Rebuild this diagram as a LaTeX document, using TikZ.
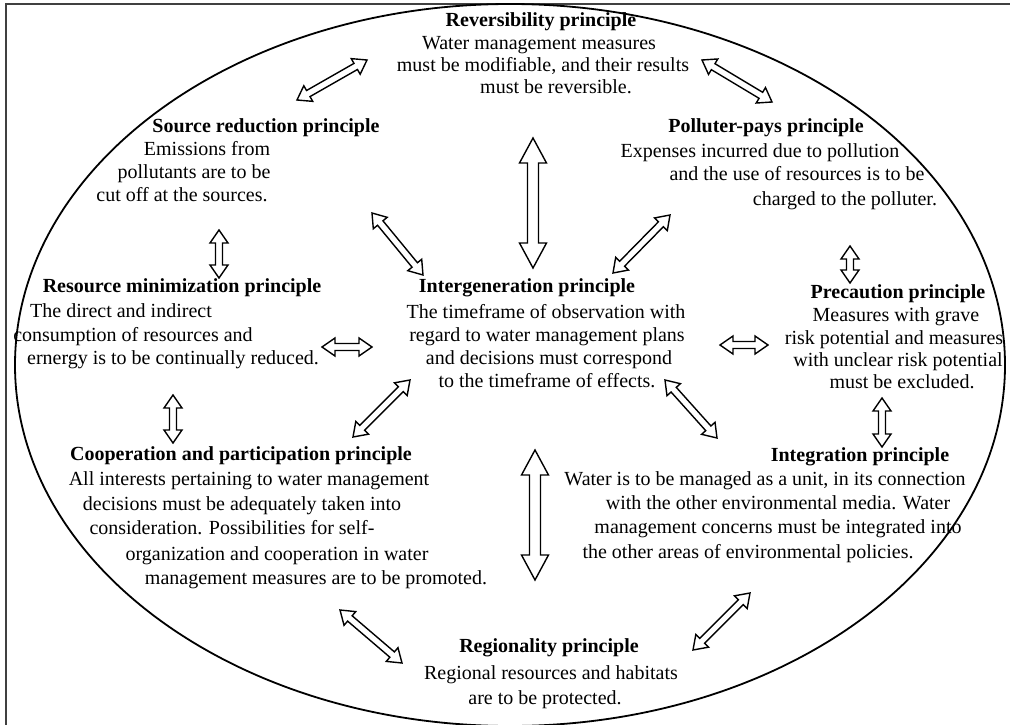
\documentclass[tikz,border=0pt]{standalone}
\usepackage{fontspec}
\setmainfont{Liberation Serif}
\usetikzlibrary{calc}
\tikzset{
  body/.style={font=\fontsize{20}{24}\selectfont, inner sep=0pt, anchor=mid},
  ttl/.style={font=\bfseries\fontsize{20}{24}\selectfont, inner sep=0pt, anchor=mid},
  arrowshape/.style={draw=black, fill=white, line width=1.4pt, line join=miter},
  frame/.style={draw=black!75, line width=1.6pt},
  oval/.style={draw=black, line width=1.8pt}
}
% #1 start, #2 end, #3 shaft half width, #4 head half width, #5 head length
\newcommand{\hollowarrow}[5]{%
  \coordinate (#1-#2-a) at ($(#1)!#5!(#2)$);
  \coordinate (#1-#2-b) at ($(#2)!#5!(#1)$);
  \draw[arrowshape] (#1) -- ($(#1-#2-a)!#4!90:(#2)$) -- ($(#1-#2-a)!#3!90:(#2)$)
    -- ($(#1-#2-b)!#3!-90:(#1)$) -- ($(#1-#2-b)!#4!-90:(#1)$) -- (#2)
    -- ($(#1-#2-b)!#4!90:(#1)$) -- ($(#1-#2-b)!#3!90:(#1)$)
    -- ($(#1-#2-a)!#3!-90:(#2)$) -- ($(#1-#2-a)!#4!-90:(#2)$) -- cycle;}
\newcommand{\smallarrow}[2]{\hollowarrow{#1}{#2}{3.5pt}{9pt}{13pt}}
\newcommand{\bigarrow}[2]{\hollowarrow{#1}{#2}{5.5pt}{13.5pt}{25pt}}
\begin{document}
\begin{tikzpicture}[x=1pt, y=-1pt]
\useasboundingbox (0,0) rectangle (1010,725);
\fill[white] (0,0) rectangle (1010,725);
% frame remnants (top and left)
\coordinate (fa) at (6,725);
\coordinate (fb) at (6,4);
\coordinate (fc) at (1010,4);
\draw[frame] (fa) -- (fb) -- (fc);
% large ellipse
\coordinate (oc) at (510,365);
\draw[oval] (oc) ellipse [x radius=495pt, y radius=361pt];

% Reversibility
\node[ttl]  (rev0) at (541,24) {Reversibility principle};
\node[body] (rev1) at (539,47) {Water management measures};
\node[body] (rev2) at (543,69) {must be modifiable, and their results};
\node[body] (rev3) at (556,91) {must be reversible.};

% Source reduction
\node[ttl]  (src0) at (266,130) {Source reduction principle};
\node[body] (src1) at (207,153) {Emissions from};
\node[body] (src2) at (194,176) {pollutants are to be};
\node[body] (src3) at (182,199) {cut off at the sources.};

% Polluter-pays
\node[ttl]  (pol0) at (766,130) {Polluter-pays principle};
\node[body] (pol1) at (760,155) {Expenses incurred due to pollution};
\node[body] (pol2) at (797,178) {and the use of resources is to be};
\node[body] (pol3) at (845,203) {charged to the polluter.};

% Resource minimization
\node[ttl]  (res0) at (182,290) {Resource minimization principle};
\node[body] (res1) at (121,315) {The direct and indirect};
\node[body] (res2) at (133,339) {consumption of resources and};
\node[body] (res3) at (173,362) {ernergy is to be continually reduced.};

% Intergeneration
\node[ttl]  (int0) at (527,290) {Intergeneration principle};
\node[body] (int1) at (546,316) {The timeframe of observation with};
\node[body] (int2) at (547,339) {regard to water management plans};
\node[body] (int3) at (549,362) {and decisions must correspond};
\node[body] (int4) at (547,385) {to the timeframe of effects.};

% Precaution
\node[ttl]  (pre0) at (898,296) {Precaution principle};
\node[body] (pre1) at (896,319) {Measures with grave};
\node[body] (pre2) at (894,342) {risk potential and measures};
\node[body] (pre3) at (898,364) {with unclear risk potential};
\node[body] (pre4) at (902,386) {must be excluded.};

% Cooperation and participation
\node[ttl]  (coo0) at (241,458) {Cooperation and participation principle};
\node[body] (coo1) at (249,483) {All interests pertaining to water management};
\node[body] (coo2) at (242,508) {decisions must be adequately taken into};
\node[body] (coo3) at (232,532) {consideration. Possibilities for self-};
\node[body] (coo4) at (277,558) {organization and cooperation in water};
\node[body] (coo5) at (316,582) {management measures are to be promoted.};

% Integration
\node[ttl]  (itg0) at (860,459) {Integration principle};
\node[body] (itg1) at (765,483) {Water is to be managed as a unit, in its connection};
\node[body] (itg2) at (778,507) {with the other environmental media. Water};
\node[body] (itg3) at (778,531) {management concerns must be integrated into};
\node[body] (itg4) at (748,556) {the other areas of environmental policies.};

% Regionality
\node[ttl]  (reg0) at (549,650) {Regionality principle};
\node[body] (reg1) at (551,677) {Regional resources and habitats};
\node[body] (reg2) at (545,702) {are to be protected.};

% arrow end points
\coordinate (a1s) at (297,100);  \coordinate (a1e) at (367,60);
\coordinate (a2s) at (702,60);   \coordinate (a2e) at (772,102);
\coordinate (a3s) at (533,138);  \coordinate (a3e) at (533,268);
\coordinate (a4s) at (372,213);  \coordinate (a4e) at (423,275);
\coordinate (a5s) at (670,215);  \coordinate (a5e) at (613,273);
\coordinate (a6s) at (219,230);  \coordinate (a6e) at (219,278);
\coordinate (a7s) at (850,246);  \coordinate (a7e) at (850,283);
\coordinate (a8s) at (322,347);  \coordinate (a8e) at (372,347);
\coordinate (a9s) at (720,345);  \coordinate (a9e) at (768,345);
\coordinate (a10s) at (173,395); \coordinate (a10e) at (173,443);
\coordinate (a11s) at (410,380); \coordinate (a11e) at (353,437);
\coordinate (a12s) at (665,380); \coordinate (a12e) at (717,438);
\coordinate (a13s) at (882,398); \coordinate (a13e) at (882,447);
\coordinate (a14s) at (535,450); \coordinate (a14e) at (535,580);
\coordinate (a15s) at (340,610); \coordinate (a15e) at (402,663);
\coordinate (a16s) at (750,593); \coordinate (a16e) at (693,650);

\smallarrow{a1s}{a1e}
\smallarrow{a2s}{a2e}
\bigarrow{a3s}{a3e}
\smallarrow{a4s}{a4e}
\smallarrow{a5s}{a5e}
\smallarrow{a6s}{a6e}
\smallarrow{a7s}{a7e}
\smallarrow{a8s}{a8e}
\smallarrow{a9s}{a9e}
\smallarrow{a10s}{a10e}
\smallarrow{a11s}{a11e}
\smallarrow{a12s}{a12e}
\smallarrow{a13s}{a13e}
\bigarrow{a14s}{a14e}
\smallarrow{a15s}{a15e}
\smallarrow{a16s}{a16e}
\end{tikzpicture}
\end{document}
